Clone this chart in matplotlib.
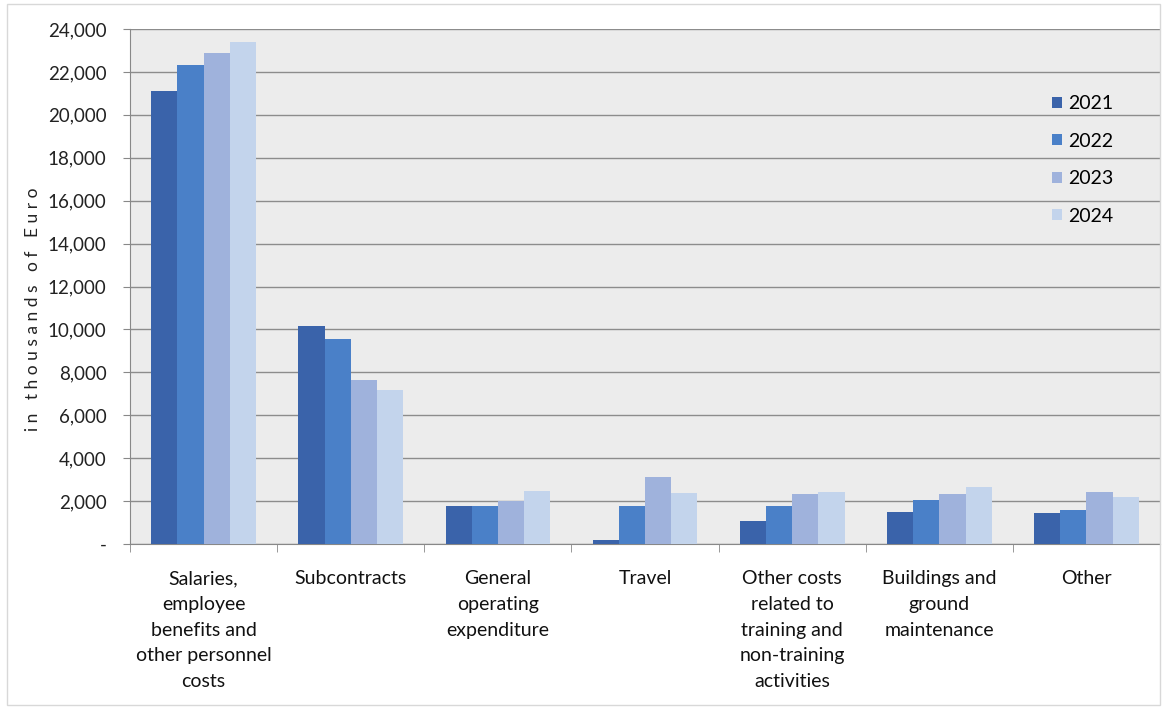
import numpy as np
import matplotlib
matplotlib.use("Agg")
import matplotlib.pyplot as plt
from matplotlib.patches import Rectangle

categories = [
    "Salaries,\nemployee\nbenefits and\nother personnel\ncosts",
    "Subcontracts",
    "General\noperating\nexpenditure",
    "Travel",
    "Other costs\nrelated to\ntraining and\nnon-training\nactivities",
    "Buildings and\nground\nmaintenance",
    "Other",
]
years = ["2021", "2022", "2023", "2024"]
v2021 = [21100, 10150, 1780, 200, 1050, 1500, 1430]
v2022 = [22300, 9550, 1780, 1750, 1750, 2050, 1580]
v2023 = [22900, 7650, 2000, 3100, 2330, 2330, 2420]
v2024 = [23400, 7200, 2480, 2400, 2420, 2640, 2170]
yticks = [0, 2000, 4000, 6000, 8000, 10000, 12000, 14000, 16000, 18000, 20000, 22000, 24000]

colors = ["#3a63aa", "#4a80c8", "#9fb2dc", "#c3d4ec"]

plt.rcParams["font.family"] = ["Lato", "DejaVu Sans"]

fig = plt.figure(figsize=(11.62, 7.09), dpi=100)
fig.patch.set_facecolor("white")
fig.patches.append(Rectangle((0.006, 0.006), 0.992, 0.988, transform=fig.transFigure,
                             fill=False, edgecolor="#d8d8d8", linewidth=1.0))

ax = fig.add_axes([0.1119, 0.2327, 0.8864, 0.7264])
ax.set_facecolor("#ececec")

x = np.arange(len(categories))
w = 0.178
for i, (yr, vals) in enumerate(zip(years, [v2021, v2022, v2023, v2024])):
    ax.bar(x + (i - 1.5) * w, vals, width=w, color=colors[i], label=yr, zorder=3,
           edgecolor="none")

ax.set_xlim(-0.5, len(categories) - 0.5)
ax.set_ylim(0, 24000)
ax.set_yticks(yticks)
ax.set_yticklabels(["-"] + [f"{t:,}" for t in yticks[1:]], fontsize=13.5, color="#222222")
ax.yaxis.grid(True, color="#8c8c8c", linewidth=1.0, zorder=0)
ax.set_axisbelow(True)

ax.set_xticks(x)
ax.set_xticklabels(categories, fontsize=14, color="#111111", linespacing=1.62, va="top")
ax.set_xticks(np.arange(len(categories) + 1) - 0.5, minor=True)
ax.tick_params(axis="x", which="major", length=0, pad=19)
ax.tick_params(axis="x", which="minor", length=6, color="#888888", direction="out")
ax.tick_params(axis="y", length=5, color="#888888", direction="out", pad=12)

for side in ["top", "right"]:
    ax.spines[side].set_visible(False)
ax.spines["left"].set_color("#888888")
ax.spines["bottom"].set_color("#888888")

ax.set_ylabel("i n   t h o u s a n d s   o f   E u r o", fontsize=12.5, color="#222222")
ax.yaxis.set_label_coords(-0.086, 0.455)

leg = ax.legend(loc="upper left", bbox_to_anchor=(0.878, 0.905), frameon=False,
                fontsize=14, handlelength=0.5, handleheight=0.5, handletextpad=0.35,
                labelspacing=1.05)

fig.savefig("out.png", dpi=100)
